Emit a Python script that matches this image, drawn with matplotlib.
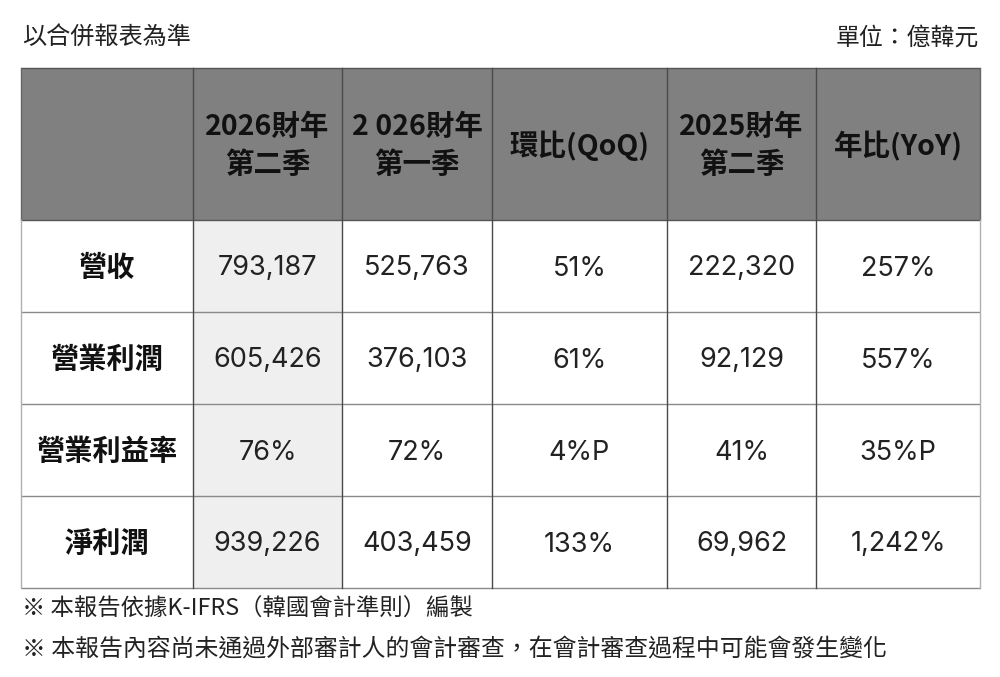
import matplotlib
matplotlib.use("Agg")
import matplotlib.pyplot as plt
from matplotlib.patches import Rectangle

plt.rcParams['font.family'] = ['Noto Sans CJK TC', 'DejaVu Sans']

title_left = "以合併報表為準"
title_right = "單位：億韓元"
col_headers = ["", "2026財年\n第二季", "2 026財年\n第一季", "環比(QoQ)", "2025財年\n第二季", "年比(YoY)"]
row_labels = ["營收", "營業利潤", "營業利益率", "淨利潤"]
q2_2026 = ["793,187", "605,426", "76%", "939,226"]
q1_2026 = ["525,763", "376,103", "72%", "403,459"]
qoq = ["51%", "61%", "4%P", "133%"]
q2_2025 = ["222,320", "92,129", "41%", "69,962"]
yoy = ["257%", "557%", "35%P", "1,242%"]
footnotes = ["※ 本報告依據K-IFRS（韓國會計準則）編製",
             "※ 本報告內容尚未通過外部審計人的會計審查，在會計審查過程中可能會發生變化"]

columns = [q2_2026, q1_2026, qoq, q2_2025, yoy]

W, H = 1000, 677
fig = plt.figure(figsize=(W / 100, H / 100), dpi=100)
ax = fig.add_axes([0, 0, 1, 1])
ax.set_xlim(0, W)
ax.set_ylim(H, 0)
ax.axis('off')

col_edges = [21, 193, 342, 492, 667, 816, 980]
row_edges = [68, 220, 312, 404, 496, 588]

# header background
ax.add_patch(Rectangle((col_edges[0], row_edges[0]), col_edges[-1] - col_edges[0],
                       row_edges[1] - row_edges[0], facecolor='#808080', edgecolor='none'))
# highlighted first data column
ax.add_patch(Rectangle((col_edges[1], row_edges[1]), col_edges[2] - col_edges[1],
                       row_edges[-1] - row_edges[1], facecolor='#efefef', edgecolor='none'))

# horizontal lines
for i, y in enumerate(row_edges):
    c = '#555555' if i <= 1 else '#8a8a8a'
    ax.plot([col_edges[0], col_edges[-1]], [y, y], color=c, lw=1.0, solid_capstyle='butt')
# vertical lines
for j, x in enumerate(col_edges):
    if j == 0 or j == len(col_edges) - 1:
        ax.plot([x, x], [row_edges[0], row_edges[1]], color='#666666', lw=1.0)
        ax.plot([x, x], [row_edges[1], row_edges[-1]], color='#b0b0b0', lw=1.0)
    else:
        ax.plot([x, x], [row_edges[0], row_edges[-1]], color='#4a4a4a', lw=1.0)

def cx(j):
    return (col_edges[j] + col_edges[j + 1]) / 2

def cy(i):
    return (row_edges[i] + row_edges[i + 1]) / 2

# header texts
for j, h in enumerate(col_headers):
    if h:
        ax.text(cx(j), cy(0) + 2, h, ha='center', va='center', fontsize=20.5,
                fontweight='bold', color='#111111', linespacing=1.45,
                family=['Noto Sans CJK TC', 'DejaVu Sans'])

# row labels
for i, lab in enumerate(row_labels):
    ax.text(cx(0), cy(i + 1) + 2, lab, ha='center', va='center', fontsize=20.3,
            fontweight='bold', color='#111111')

# data
for j, col in enumerate(columns):
    for i, v in enumerate(col):
        ax.text(cx(j + 1), cy(i + 1) + 2.5, v, ha='center', va='center', fontsize=19.5,
                color='#222222', family=['Inter', 'DejaVu Sans'])

# titles
ax.text(22, 38, title_left, ha='left', va='center', fontsize=17.4, color='#222222')
ax.text(979, 38, title_right, ha='right', va='center', fontsize=17.2, color='#222222')

# footnotes
ax.text(22, 609, footnotes[0], ha='left', va='center', fontsize=16.8, color='#222222')
ax.text(22, 650, footnotes[1], ha='left', va='center', fontsize=17.2, color='#222222')

fig.savefig('out.png', dpi=100, facecolor='white')
